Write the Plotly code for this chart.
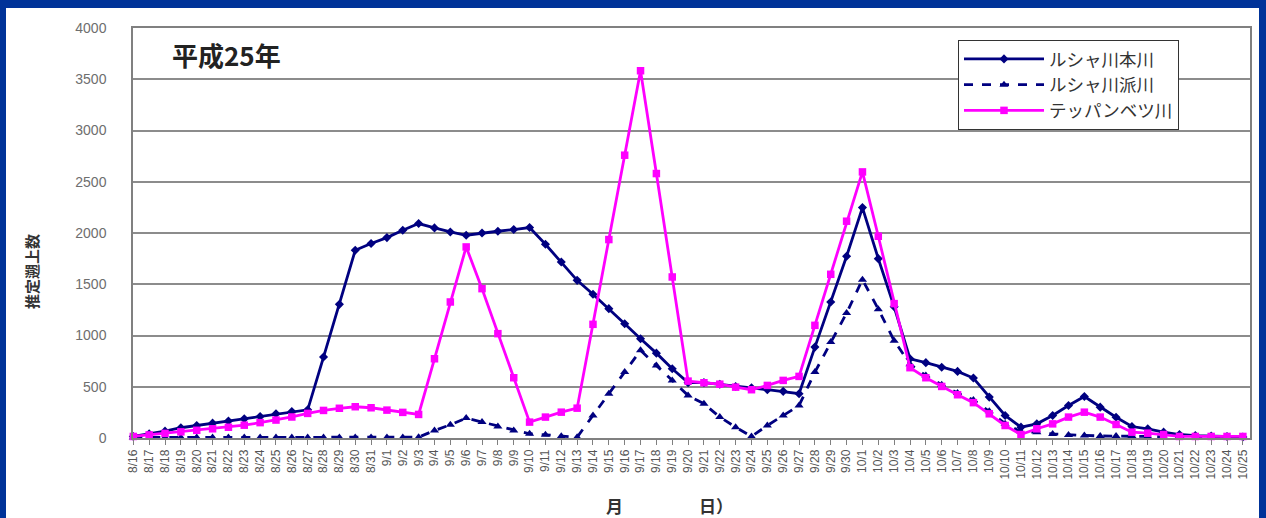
import plotly.graph_objects as go

# Survey dates (month/day)
dates = [
    "8/16", "8/17", "8/18", "8/19", "8/20", "8/21", "8/22", "8/23", "8/24", "8/25",
    "8/26", "8/27", "8/28", "8/29", "8/30", "8/31",
    "9/1", "9/2", "9/3", "9/4", "9/5", "9/6", "9/7", "9/8", "9/9", "9/10",
    "9/11", "9/12", "9/13", "9/14", "9/15", "9/16", "9/17", "9/18", "9/19", "9/20",
    "9/21", "9/22", "9/23", "9/24", "9/25", "9/26", "9/27", "9/28", "9/29", "9/30",
    "10/1", "10/2", "10/3", "10/4", "10/5", "10/6", "10/7", "10/8", "10/9", "10/10",
    "10/11", "10/12", "10/13", "10/14", "10/15", "10/16", "10/17", "10/18", "10/19", "10/20",
    "10/21", "10/22", "10/23", "10/24", "10/25",
]

# Estimated run counts per river
rusha_main = [
    15, 40, 67, 100, 122, 145, 165, 187, 210, 236,
    259, 275, 790, 1304, 1831, 1897,
    1955, 2027, 2092, 2050, 2010, 1978, 2000, 2017, 2034, 2053,
    1890, 1717, 1538, 1402, 1262, 1115, 969, 828, 676, 540,
    540, 525, 503, 490, 471, 455, 432, 887, 1327, 1773,
    2248, 1750, 1280, 773, 735, 690, 650, 585, 399, 220,
    106, 138, 220, 317, 405, 301, 203, 112, 90, 57,
    34, 24, 20, 15, 10,
]

rusha_branch = [
    5, 5, 5, 5, 5, 5, 5, 5, 5, 5,
    5, 5, 5, 5, 5, 5,
    5, 5, 8, 73, 129, 194, 155, 112, 73, 41,
    31, 18, 8, 220, 432, 643, 855, 708, 562, 415,
    334, 204, 106, 15, 122, 220, 317, 643, 936, 1219,
    1545, 1257, 950, 720, 610, 520, 440, 370, 260, 140,
    60, 55, 40, 30, 25, 20, 20, 20, 15, 10,
    10, 10, 10, 10, 10,
]

teppanbetsu = [
    15, 30, 45, 60, 75, 90, 105, 125, 150, 175,
    205, 240, 269, 290, 305, 295,
    272, 250, 230, 773, 1327, 1864, 1457, 1018, 588, 155,
    204, 252, 291, 1109, 1936, 2759, 3583, 2580, 1571, 555,
    539, 525, 496, 471, 513, 562, 601, 1099, 1597, 2115,
    2596, 1968, 1311, 686, 588, 503, 422, 345, 236, 122,
    34, 90, 138, 204, 252, 204, 132, 57, 47, 34,
    15, 15, 15, 15, 15,
]

NAVY = "#000080"
PINK = "#FF00FF"
GRID = "#8c8c8c"
JP_FONT = "Noto Sans CJK JP"

# Page geometry (pixels) used to place paper-referenced items
W, H = 1266, 518
PL, PR, PT, PB = 133, 1250, 28, 438


def px(x):
    return (x - PL) / (PR - PL)


def py(y):
    return (PB - y) / (PB - PT)


fig = go.Figure()

fig.add_trace(go.Scatter(
    x=dates, y=rusha_main, name="ルシャ川本川", mode="lines+markers",
    line=dict(color=NAVY, width=2.8),
    marker=dict(symbol="diamond", size=7, color=NAVY),
    cliponaxis=False,
))
fig.add_trace(go.Scatter(
    x=dates, y=rusha_branch, name="ルシャ川派川", mode="lines+markers",
    line=dict(color=NAVY, width=2.8, dash="dash"),
    marker=dict(symbol="triangle-up", size=8, color=NAVY),
    cliponaxis=False,
))
fig.add_trace(go.Scatter(
    x=dates, y=teppanbetsu, name="テッパンベツ川", mode="lines+markers",
    line=dict(color=PINK, width=2.8),
    marker=dict(symbol="square", size=7.5, color=PINK),
    cliponaxis=False,
))

fig.update_layout(
    width=W, height=H,
    margin=dict(l=PL, r=W - PR, t=PT, b=H - PB),
    paper_bgcolor="#003399",
    plot_bgcolor="white",
    showlegend=True,
    legend=dict(
        x=px(958), y=py(40), xanchor="left", yanchor="top",
        bgcolor="white", bordercolor="#333333", borderwidth=1,
        font=dict(family=JP_FONT, size=17.5, color="#333333"),
        itemwidth=80, tracegroupgap=0,
    ),
    font=dict(family="Liberation Sans, Arial, sans-serif"),
    shapes=[
        # white page inside the blue frame
        dict(type="rect", xref="paper", yref="paper",
             x0=px(6), x1=px(1259), y0=py(H + 20), y1=py(8),
             fillcolor="white", line=dict(width=0), layer="below"),
    ],
    annotations=[
        dict(text="<b>平成25年</b>", xref="paper", yref="paper",
             x=px(170), y=py(55), xanchor="left", yanchor="middle",
             showarrow=False, font=dict(family=JP_FONT, size=26, color="#222222")),
        dict(text="<b>推定遡上数</b>", xref="paper", yref="paper",
             x=px(31), y=py(272), xanchor="center", yanchor="middle",
             textangle=-90, showarrow=False,
             font=dict(family=JP_FONT, size=15, color="#333333")),
        dict(text="<b>月</b>", xref="paper", yref="paper",
             x=px(614), y=py(506), xanchor="center", yanchor="middle",
             showarrow=False, font=dict(family=JP_FONT, size=17, color="#333333")),
        dict(text="<b>日）</b>", xref="paper", yref="paper",
             x=px(697), y=py(506), xanchor="left", yanchor="middle",
             showarrow=False, font=dict(family=JP_FONT, size=17, color="#333333")),
    ],
)

fig.update_xaxes(
    type="category",
    range=[-0.02, 70.45],
    tickmode="array", tickvals=dates, ticktext=dates,
    tickangle=-90,
    tickfont=dict(size=12, color="#555555"),
    ticks="outside", ticklen=5, tickcolor="#808080", tickwidth=1,
    showline=True, linecolor="#808080", linewidth=1.5, mirror=True,
    showgrid=False, zeroline=False,
)
fig.update_yaxes(
    range=[0, 4000], dtick=500, tick0=0,
    tickfont=dict(size=14, color="#6e6e6e"),
    ticklabelstandoff=22,
    showgrid=True, gridcolor=GRID, gridwidth=1.5,
    showline=True, linecolor="#808080", linewidth=1.5, mirror=True,
    zeroline=False, ticks="",
)

fig.write_html("out.html")
